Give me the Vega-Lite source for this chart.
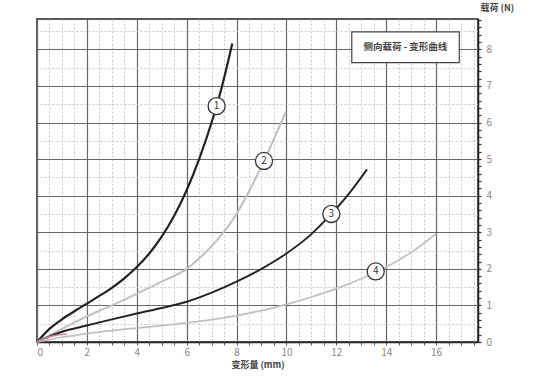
{
  "$schema": "https://vega.github.io/schema/vega-lite/v6.json",
  "width": 441,
  "height": 323,
  "autosize": "none",
  "padding": {"left": 37, "top": 19, "right": 55, "bottom": 37},
  "background": "white",
  "config": {
    "font": "Noto Sans CJK SC",
    "view": {"stroke": "#222", "strokeWidth": 1.5}
  },
  "datasets": {
    "curves": [
      {"s": "1", "x": 0, "y": 0}, {"s": "1", "x": 0.5, "y": 0.36}, {"s": "1", "x": 1, "y": 0.62},
      {"s": "1", "x": 1.5, "y": 0.84}, {"s": "1", "x": 2, "y": 1.05}, {"s": "1", "x": 2.5, "y": 1.26},
      {"s": "1", "x": 3, "y": 1.48}, {"s": "1", "x": 3.5, "y": 1.74}, {"s": "1", "x": 4, "y": 2.05},
      {"s": "1", "x": 4.5, "y": 2.42}, {"s": "1", "x": 5, "y": 2.88}, {"s": "1", "x": 5.5, "y": 3.45},
      {"s": "1", "x": 6, "y": 4.15}, {"s": "1", "x": 6.5, "y": 5.0}, {"s": "1", "x": 7, "y": 6.0},
      {"s": "1", "x": 7.2, "y": 6.45}, {"s": "1", "x": 7.42, "y": 7.0}, {"s": "1", "x": 7.83, "y": 8.16},
      {"s": "2", "x": 0, "y": 0}, {"s": "2", "x": 1, "y": 0.36}, {"s": "2", "x": 2, "y": 0.7},
      {"s": "2", "x": 3, "y": 1.0}, {"s": "2", "x": 4, "y": 1.32}, {"s": "2", "x": 5, "y": 1.65},
      {"s": "2", "x": 6, "y": 2.0}, {"s": "2", "x": 6.5, "y": 2.28}, {"s": "2", "x": 7, "y": 2.62},
      {"s": "2", "x": 7.5, "y": 3.02}, {"s": "2", "x": 8, "y": 3.5}, {"s": "2", "x": 8.5, "y": 4.12},
      {"s": "2", "x": 9, "y": 4.8}, {"s": "2", "x": 9.5, "y": 5.55}, {"s": "2", "x": 9.98, "y": 6.3},
      {"s": "3", "x": 0, "y": 0}, {"s": "3", "x": 1, "y": 0.28}, {"s": "3", "x": 2, "y": 0.45},
      {"s": "3", "x": 3, "y": 0.62}, {"s": "3", "x": 4, "y": 0.78}, {"s": "3", "x": 5, "y": 0.93},
      {"s": "3", "x": 6, "y": 1.1}, {"s": "3", "x": 7, "y": 1.35}, {"s": "3", "x": 8, "y": 1.65},
      {"s": "3", "x": 9, "y": 2.0}, {"s": "3", "x": 10, "y": 2.42}, {"s": "3", "x": 11, "y": 2.95},
      {"s": "3", "x": 11.8, "y": 3.5}, {"s": "3", "x": 12.5, "y": 4.05}, {"s": "3", "x": 13.23, "y": 4.72},
      {"s": "4", "x": 0, "y": 0}, {"s": "4", "x": 1, "y": 0.13}, {"s": "4", "x": 2, "y": 0.23},
      {"s": "4", "x": 3, "y": 0.31}, {"s": "4", "x": 4, "y": 0.38}, {"s": "4", "x": 5, "y": 0.45},
      {"s": "4", "x": 6, "y": 0.52}, {"s": "4", "x": 7, "y": 0.61}, {"s": "4", "x": 8, "y": 0.72},
      {"s": "4", "x": 9, "y": 0.86}, {"s": "4", "x": 10, "y": 1.03}, {"s": "4", "x": 11, "y": 1.23},
      {"s": "4", "x": 12, "y": 1.46}, {"s": "4", "x": 13, "y": 1.73}, {"s": "4", "x": 14, "y": 2.05},
      {"s": "4", "x": 15, "y": 2.45}, {"s": "4", "x": 16, "y": 2.96},
      {"s": "r", "x": 0, "y": 0}, {"s": "r", "x": 0.5, "y": 0.14}, {"s": "r", "x": 1.2, "y": 0.22}
    ],
    "labels": [
      {"n": "1", "x": 7.2, "y": 6.45},
      {"n": "2", "x": 9.1, "y": 4.95},
      {"n": "3", "x": 11.8, "y": 3.5},
      {"n": "4", "x": 13.58, "y": 1.93}
    ],
    "box": [
      {"x": 12.62, "x2": 16.93, "y": 7.64, "y2": 8.48}
    ],
    "boxtext": [
      {"x": 14.77, "y": 8.06, "t": "侧向载荷 - 变形曲线"}
    ]
  },
  "encoding": {
    "x": {
      "field": "x", "type": "quantitative",
      "scale": {"domain": [0, 17.68], "nice": false, "zero": false},
      "axis": {
        "values": [0,0.5,1,1.5,2,2.5,3,3.5,4,4.5,5,5.5,6,6.5,7,7.5,8,8.5,9,9.5,10,10.5,11,11.5,12,12.5,13,13.5,14,14.5,15,15.5,16,16.5,17,17.5],
        "labelExpr": "datum.value % 2 === 0 ? format(datum.value, 'd') : ''",
        "title": "变形量 (mm)",
        "titleFontSize": 9,
        "titleFontWeight": "bold",
        "titleColor": "#444",
        "titlePadding": 3,
        "labelFontSize": 10,
        "labelColor": "#888",
        "labelPadding": 2,
        "domainColor": "#222",
        "domainWidth": 1.5,
        "tickColor": "#555",
        "tickSize": 3,
        "grid": true,
        "gridColor": {"condition": {"test": "datum.value % 2 === 0", "value": "#666"}, "value": "#c8c8c8"},
        "gridDash": {"condition": {"test": "datum.value % 2 === 0", "value": []}, "value": [2, 2]},
        "gridWidth": {"condition": {"test": "datum.value % 2 === 0", "value": 1.2}, "value": 1}
      }
    },
    "y": {
      "field": "y", "type": "quantitative",
      "scale": {"domain": [0, 8.83], "nice": false, "zero": false},
      "axis": {
        "orient": "right",
        "values": [0,0.1,0.2,0.3,0.4,0.5,0.6,0.7,0.8,0.9,1,1.1,1.2,1.3,1.4,1.5,1.6,1.7,1.8,1.9,2,2.1,2.2,2.3,2.4,2.5,2.6,2.7,2.8,2.9,3,3.1,3.2,3.3,3.4,3.5,3.6,3.7,3.8,3.9,4,4.1,4.2,4.3,4.4,4.5,4.6,4.7,4.8,4.9,5,5.1,5.2,5.3,5.4,5.5,5.6,5.7,5.8,5.9,6,6.1,6.2,6.3,6.4,6.5,6.6,6.7,6.8,6.9,7,7.1,7.2,7.3,7.4,7.5,7.6,7.7,7.8,7.9,8,8.1,8.2,8.3,8.4,8.5,8.6,8.7,8.8],
        "labelExpr": "datum.value % 1 === 0 ? format(datum.value, 'd') : ''",
        "title": "载荷 (N)",
        "titleAngle": 0,
        "titleAlign": "left",
        "titleBaseline": "alphabetic",
        "titleX": 2,
        "titleY": -9,
        "titleFontSize": 9,
        "titleFontWeight": "bold",
        "titleColor": "#444",
        "labelFontSize": 10,
        "labelColor": "#888",
        "labelPadding": 5,
        "domainColor": "#222",
        "domainWidth": 1.5,
        "tickColor": "#333",
        "tickSize": 3,
        "tickWidth": 1.2,
        "tickOpacity": {"condition": {"test": "round(datum.value * 10) % 2 === 0", "value": 1}, "value": 0},
        "grid": true,
        "gridColor": {"condition": {"test": "datum.value % 1 === 0", "value": "#666"}, "value": "#c8c8c8"},
        "gridDash": {"condition": {"test": "datum.value % 1 === 0", "value": []}, "value": [2, 2]},
        "gridOpacity": {"condition": {"test": "round(datum.value * 10) % 5 === 0", "value": 1}, "value": 0},
        "gridWidth": {"condition": {"test": "datum.value % 1 === 0", "value": 1.2}, "value": 1}
      }
    }
  },
  "layer": [
    {
      "data": {"name": "curves"},
      "mark": {"type": "line", "interpolate": "monotone"},
      "encoding": {
        "color": {
          "field": "s", "type": "nominal",
          "scale": {"domain": ["1", "2", "3", "4", "r"], "range": ["#222222", "#c0c0c0", "#222222", "#c0c0c0", "#cf8f9a"]},
          "legend": null
        },
        "strokeWidth": {
          "field": "s", "type": "nominal",
          "scale": {"domain": ["1", "2", "3", "4", "r"], "range": [2.2, 1.6, 2.2, 1.6, 2]},
          "legend": null
        }
      }
    },
    {
      "data": {"name": "box"},
      "mark": {"type": "rect", "fill": "white", "stroke": "#444", "strokeWidth": 1.2},
      "encoding": {
        "x2": {"field": "x2"},
        "y2": {"field": "y2"}
      }
    },
    {
      "data": {"name": "boxtext"},
      "mark": {"type": "text", "fontSize": 9.5, "fontWeight": "bold", "color": "#444"},
      "encoding": {
        "text": {"field": "t"}
      }
    },
    {
      "data": {"name": "labels"},
      "mark": {"type": "point", "shape": "circle", "filled": false, "fill": "white", "fillOpacity": 1, "stroke": "#333", "strokeWidth": 1.3, "size": 290, "opacity": 1},
      "encoding": {}
    },
    {
      "data": {"name": "labels"},
      "mark": {"type": "text", "fontSize": 10, "color": "#333", "baseline": "middle", "align": "center"},
      "encoding": {
        "text": {"field": "n"}
      }
    }
  ]
}
